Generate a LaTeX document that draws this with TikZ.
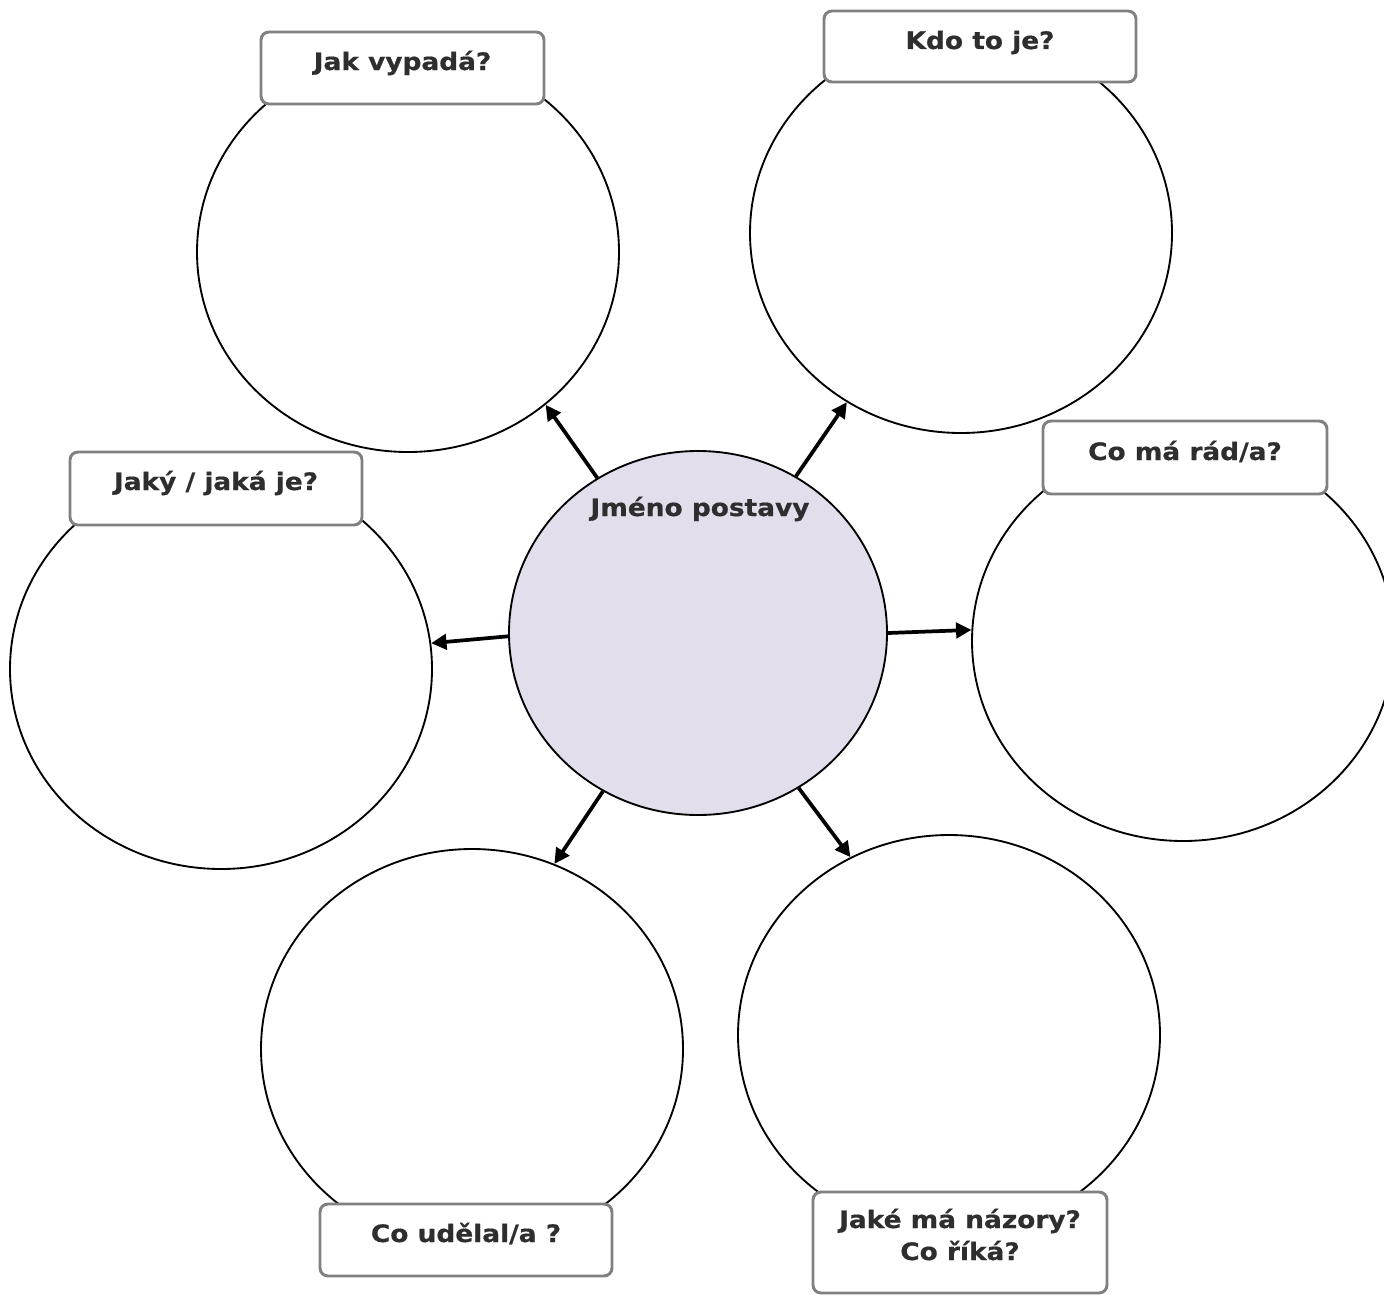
\documentclass[tikz,border=0pt]{standalone}
\usepackage{fontspec}
\newfontfamily\qfont{DejaVu Sans}[FakeStretch=1.1,FakeBold=0.6]
\usetikzlibrary{arrows.meta,shapes.geometric}
\definecolor{txt}{HTML}{2E2E2E}
\definecolor{boxline}{HTML}{808080}
\definecolor{lav}{HTML}{E3DEEB}
\tikzset{
  bubble/.style={ellipse, draw=black, line width=1.4pt, fill=white, inner sep=0pt, minimum width={422*0.75pt}, minimum height={400*0.75pt}},
  hub/.style={ellipse, draw=black, line width=1.4pt, fill=lav, inner sep=0pt, minimum width={378*0.75pt}, minimum height={364*0.75pt}},
  qbox/.style={draw=boxline, line width=2.2pt, fill=white, rounded corners=6pt, inner sep=0pt},
  qtext/.style={text=txt, font=\qfont\bfseries\fontsize{18pt}{24pt}\selectfont, inner sep=0pt, anchor=base, align=center},
  link/.style={line width=2.8pt, -{Triangle[length=11.5pt,width=11.5pt]}}
}
\begin{document}
\begin{tikzpicture}[x=0.75pt,y=-0.75pt]
\useasboundingbox (0,0) rectangle (1384,1295);
% circles
\node[bubble] (c1) at (408,252) {};
\node[bubble] (c2) at (961,233) {};
\node[bubble] (c3) at (1183,641) {};
\node[bubble] (c4) at (221,669) {};
\node[bubble] (c5) at (472,1049) {};
\node[bubble] (c6) at (949,1035) {};
\node[hub] (hub) at (698,633) {};
% boxes
\node[qbox, minimum width={283*0.75pt}, minimum height={72*0.75pt}] (b1) at (402.5,68) {};
\node[qbox, minimum width={312*0.75pt}, minimum height={71*0.75pt}] (b2) at (980,46.5) {};
\node[qbox, minimum width={284*0.75pt}, minimum height={73*0.75pt}] (b3) at (1185,457.5) {};
\node[qbox, minimum width={292*0.75pt}, minimum height={73*0.75pt}] (b4) at (216,488.5) {};
\node[qbox, minimum width={292*0.75pt}, minimum height={72*0.75pt}] (b5) at (466,1240) {};
\node[qbox, minimum width={294*0.75pt}, minimum height={101*0.75pt}] (b6) at (960,1242.5) {};
% texts
\node[qtext] (t1) at (402.5,70) {Jak vypadá?};
\node[qtext] (t2) at (980,49) {Kdo to je?};
\node[qtext] (t3) at (1185,460) {Co má rád/a?};
\node[qtext] (t4) at (216,490) {Jaký / jaká je?};
\node[qtext] (t5) at (466,1242) {Co udělal/a ?};
\node[qtext] (t6a) at (960,1228) {Jaké má názory?};
\node[qtext] (t6b) at (960,1260) {Co říká?};
\node[qtext] (th) at (700,516) {Jméno postavy};
% arrows
\draw[link] (hub.123.1) -- (c1.-48.3);
\draw[link] (hub.58.5) -- (c2.236.5);
\draw[link] (hub.181.5) -- (c4.7.8);
\draw[link] (hub.0.3) -- (c3.177.6);
\draw[link] (hub.239.7) -- (c5.66);
\draw[link] (hub.303.5) -- (c6.119);
\end{tikzpicture}
\end{document}
